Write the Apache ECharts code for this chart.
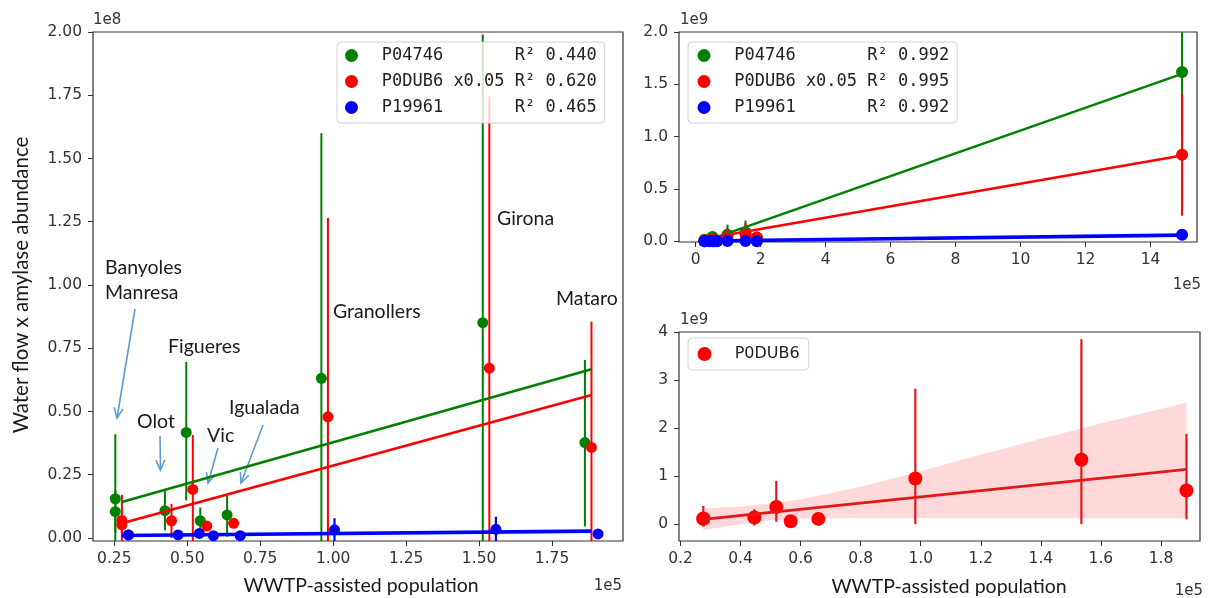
<!DOCTYPE html>
<html>
<head>
<meta charset="utf-8">
<script src="https://cdn.jsdelivr.net/npm/echarts@6/dist/echarts.min.js"></script>
<style>
  html, body { margin: 0; padding: 0; background: #fff; }
  #chart { width: 1211px; height: 598px; }
</style>
</head>
<body>
<div id="chart"></div>
<script>
// ---- Data -------------------------------------------------------------
// WWTP sites (population in units of 1e5 inhabitants)
const sites = ['Banyoles', 'Manresa', 'Olot', 'Figueres', 'Vic', 'Igualada', 'Granollers', 'Girona', 'Mataro'];
const populationE5 = [0.276, 0.276, 0.446, 0.519, 0.567, 0.659, 0.982, 1.535, 1.885];

// Water flow x amylase abundance, units of 1e8 (P0DUB6 scaled by 0.05)
const p04746 = [0.155, 0.104, 0.108, 0.417, 0.068, 0.091, 0.631, 0.851, 0.377];
const p04746Low = [-0.10, 0.02, 0.03, 0.148, 0.01, 0.005, -0.35, -0.29, 0.046];
const p04746High = [0.41, 0.19, 0.188, 0.696, 0.12, 0.168, 1.60, 1.99, 0.704];

const p0dub6x005 = [0.069, 0.052, 0.068, 0.192, 0.047, 0.058, 0.479, 0.671, 0.358];
const p0dub6x005Low = [-0.03, 0.02, 0.0, -0.02, 0.03, 0.04, -0.30, -0.40, -0.14];
const p0dub6x005High = [0.17, 0.09, 0.135, 0.407, 0.065, 0.075, 1.265, 1.745, 0.855];

const p19961 = [0.012, 0.012, 0.012, 0.018, 0.009, 0.009, 0.032, 0.034, 0.016];
const p19961Low = [0.004, 0.004, 0.004, 0.008, 0.003, 0.003, -0.014, -0.016, 0.008];
const p19961High = [0.020, 0.020, 0.020, 0.028, 0.015, 0.015, 0.078, 0.084, 0.024];

// Linear fits over the nine sites (1e8)
const fitXE5 = [0.276, 1.885];
const fitP04746 = [0.142, 0.667];
const fitP0DUB6 = [0.058, 0.565];
const fitP19961 = [0.010, 0.027];
const r2Sites = { P04746: '0.440', P0DUB6: '0.620', P19961: '0.465' };

// Barcelona added (units 1e9 on y)
const bcnPopulationE5 = 14.97;
const bcnP04746 = [1.618, 1.00, 2.24];   // value, low, high
const bcnP0DUB6 = [0.828, 0.245, 1.41];
const bcnP19961 = [0.064, 0.040, 0.090];
const fitAllXE5 = [0.276, 14.97];
const fitAllP04746 = [0.000, 1.600];
const fitAllP0DUB6 = [0.025, 0.820];
const fitAllP19961 = [0.003, 0.060];
const r2All = { P04746: '0.992', P0DUB6: '0.995', P19961: '0.992' };

// P0DUB6 unscaled (units 1e9)
const p0dub6 = [0.12, 0.11, 0.14, 0.36, 0.06, 0.11, 0.95, 1.34, 0.70];
const p0dub6Low = [-0.05, 0.02, -0.03, 0.05, 0.02, 0.05, 0.00, 0.00, 0.10];
const p0dub6High = [0.38, 0.20, 0.31, 0.90, 0.10, 0.17, 2.82, 3.85, 1.88];
const fitP0DUB6Raw = [0.10, 1.14];
const bandXE5 = [0.276, 0.40, 0.50, 0.60, 0.80, 1.00, 1.20, 1.40, 1.60, 1.885];
const bandLow = [-0.12, 0.00, 0.08, 0.12, 0.13, 0.13, 0.13, 0.13, 0.13, 0.13];
const bandHigh = [0.33, 0.37, 0.43, 0.52, 0.78, 1.10, 1.45, 1.78, 2.10, 2.53];

// Tick labels
const ticksXLeft = [0.25, 0.50, 0.75, 1.00, 1.25, 1.50, 1.75];
const ticksYLeft = [0.00, 0.25, 0.50, 0.75, 1.00, 1.25, 1.50, 1.75, 2.00];
const ticksXTop = [0, 2, 4, 6, 8, 10, 12, 14];
const ticksYTop = [0.0, 0.5, 1.0, 1.5, 2.0];
const ticksXBottom = [0.2, 0.4, 0.6, 0.8, 1.0, 1.2, 1.4, 1.6, 1.8];
const ticksYBottom = [0, 1, 2, 3, 4];

// ---- Styling ----------------------------------------------------------
const GREEN = '#008000', RED = '#ff0000', BLUE = '#0000ff', DARKRED = '#e01818';
const ANNOT = '#5b9bd5';
const TICK_FONT = 'DejaVu Sans';
const MONO = 'DejaVu Sans Mono';
const LABEL_FONT = 'Lato';
const NBSP = '\u00a0';
const DODGE = 0.0225; // horizontal offset between the three proteins in the left panel

function valueAxis(grid, min, max, ticks, digits, margin) {
  return {
    type: 'value', gridIndex: grid, min: min, max: max,
    splitLine: { show: false },
    axisLine: { show: false, onZero: false },
    axisTick: { show: true, length: 5, customValues: ticks, lineStyle: { color: '#333', width: 1 } },
    axisLabel: {
      customValues: ticks, margin: margin, color: '#333',
      fontFamily: TICK_FONT, fontSize: 15.5,
      formatter: v => Number(v).toFixed(digits)
    }
  };
}

function errorBars(name, xi, xs, lows, highs, color, width, z) {
  return {
    type: 'custom', name: name, xAxisIndex: xi, yAxisIndex: xi, z: z, clip: true,
    data: xs.map((x, i) => [x, lows[i], highs[i]]),
    encode: { x: 0, y: [1, 2] },
    renderItem: function (params, api) {
      const a = api.coord([api.value(0), api.value(1)]);
      const b = api.coord([api.value(0), api.value(2)]);
      const cs = params.coordSys;
      const clamp = y => Math.min(Math.max(y, cs.y), cs.y + cs.height);
      return {
        type: 'line',
        shape: { x1: a[0], y1: clamp(a[1]), x2: b[0], y2: clamp(b[1]) },
        style: { stroke: color, lineWidth: width }
      };
    }
  };
}

function points(name, xi, xs, ys, color, size, z) {
  return {
    type: 'scatter', name: name, xAxisIndex: xi, yAxisIndex: xi, z: z,
    symbol: 'circle', symbolSize: size,
    itemStyle: { color: color, opacity: 1 },
    data: xs.map((x, i) => [x, ys[i]])
  };
}

function fitLine(name, xi, xs, ys, color, width, z) {
  return {
    type: 'line', name: name, xAxisIndex: xi, yAxisIndex: xi, z: z,
    showSymbol: false, symbol: 'none',
    lineStyle: { color: color, width: width },
    itemStyle: { color: color },
    data: xs.map((x, i) => [x, ys[i]])
  };
}

const shifted = (arr, d) => arr.map(v => +(v + d).toFixed(4));
const scaled = (arr, k) => arr.map(v => v * k);

// Panel 2 uses the same nine sites (1e8 -> 1e9) plus Barcelona
const allPop = populationE5.concat([bcnPopulationE5]);
const allG = scaled(p04746, 0.1).concat([bcnP04746[0]]);
const allGL = scaled(p04746Low, 0.1).concat([bcnP04746[1]]);
const allGH = scaled(p04746High, 0.1).concat([bcnP04746[2]]);
const allR = scaled(p0dub6x005, 0.1).concat([bcnP0DUB6[0]]);
const allRL = scaled(p0dub6x005Low, 0.1).concat([bcnP0DUB6[1]]);
const allRH = scaled(p0dub6x005High, 0.1).concat([bcnP0DUB6[2]]);
const allB = scaled(p19961, 0.1).concat([bcnP19961[0]]);
const allBL = scaled(p19961Low, 0.1).concat([bcnP19961[1]]);
const allBH = scaled(p19961High, 0.1).concat([bcnP19961[2]]);

function legendLabel(r2) {
  return function (name) {
    const tag = name === 'P0DUB6' ? 'P0DUB6 x0.05' : name;
    return (NBSP + tag.padEnd(13, ' ') + 'R\u00b2 ' + r2[name]).replace(/ /g, NBSP);
  };
}

function legendBox(left, top, pad, formatter, data, font, fontSize, iconH) {
  return {
    left: left, top: top, orient: 'vertical', padding: pad,
    data: data, icon: 'circle', itemWidth: 30, itemHeight: iconH, itemGap: 9,
    selectedMode: false,
    backgroundColor: 'rgba(255,255,255,0.8)', borderColor: '#d2d2d2', borderWidth: 1, borderRadius: 4,
    textStyle: { fontFamily: font, fontSize: fontSize, lineHeight: 17, color: '#222' },
    formatter: formatter
  };
}

// ---- Annotations (site names and arrows) ------------------------------
function text(x, y, str, opts) {
  return {
    type: 'text', x: x, y: y, silent: true,
    style: Object.assign({ text: str, fontFamily: LABEL_FONT, fontSize: 19.5, fill: '#1a1a1a', align: 'left', verticalAlign: 'middle' }, opts || {})
  };
}
function arrow(x1, y1, x2, y2) {
  const ang = Math.atan2(y2 - y1, x2 - x1), L = 11, s = 0.42;
  return {
    type: 'group', silent: true, children: [
      { type: 'line', shape: { x1, y1, x2, y2 }, style: { stroke: ANNOT, lineWidth: 1.6 } },
      { type: 'polyline', shape: { points: [
        [x2 - L * Math.cos(ang - s), y2 - L * Math.sin(ang - s)], [x2, y2],
        [x2 - L * Math.cos(ang + s), y2 - L * Math.sin(ang + s)]] },
        style: { stroke: ANNOT, lineWidth: 1.6, fill: null } }
    ]
  };
}

const SCALE_STYLE = { fontFamily: TICK_FONT, fontSize: 15, fill: '#333' };
const graphics = [
  text(105, 268, 'Banyoles'), text(105, 293, 'Manresa'),
  text(168, 347, 'Figueres'), text(137, 422, 'Olot'), text(207, 436, 'Vic'),
  text(229, 408, 'Igualada'), text(333, 312, 'Granollers'), text(497, 219, 'Girona'),
  text(556, 299, 'Mataro'),
  arrow(135, 309, 117, 418), arrow(160, 436, 160.5, 470), arrow(218, 448, 208, 483), arrow(263, 425, 241, 483),
  // axis titles
  text(361, 586, 'WWTP-assisted population', { align: 'center' }),
  text(949, 587, 'WWTP-assisted population', { align: 'center' }),
  Object.assign(text(21, 285, 'Water flow x amylase abundance', { align: 'center', fontSize: 20.5 }), { rotation: Math.PI / 2 }),
  // offset (scale) labels
  text(93, 20, '1e8', SCALE_STYLE),
  text(622, 586, '1e5', Object.assign({ align: 'right' }, SCALE_STYLE)),
  text(680, 20, '1e9', SCALE_STYLE),
  text(1201, 285, '1e5', Object.assign({ align: 'right' }, SCALE_STYLE)),
  text(680, 320, '1e9', SCALE_STYLE),
  text(1203, 591, '1e5', Object.assign({ align: 'right' }, SCALE_STYLE))
];

// ---- Chart ------------------------------------------------------------
const gridStyle = { show: true, borderColor: '#333', borderWidth: 1.2, backgroundColor: 'transparent' };

const option = {
  animation: false,
  backgroundColor: '#fff',
  grid: [
    Object.assign({ left: 93, top: 32, width: 530, height: 509 }, gridStyle),
    Object.assign({ left: 679, top: 32, width: 518, height: 210 }, gridStyle),
    Object.assign({ left: 679, top: 332, width: 521, height: 209 }, gridStyle)
  ],
  xAxis: [
    valueAxis(0, 0.177, 1.993, ticksXLeft, 2, 10),
    valueAxis(1, -0.51, 15.43, ticksXTop, 0, 10),
    valueAxis(2, 0.195, 1.93, ticksXBottom, 1, 10)
  ],
  yAxis: [
    valueAxis(0, -0.012, 2.0, ticksYLeft, 2, 11),
    valueAxis(1, -0.006, 2.0, ticksYTop, 1, 11),
    valueAxis(2, -0.35, 4.0, ticksYBottom, 0, 11)
  ],
  legend: [
    legendBox(337, 42, [5, 8, 7, 8], legendLabel(r2Sites), ['P04746', 'P0DUB6', 'P19961'], MONO, 17, 13),
    legendBox(688, 42, [5, 8, 7, 9.5], legendLabel(r2All), ['P04746', 'P0DUB6', 'P19961'], MONO, 17, 13),
    legendBox(688, 338, [7.5, 9, 7.5, 9.5], name => NBSP + NBSP + name, ['P0DUB6'], TICK_FONT, 16, 14)
  ],
  graphic: graphics,
  series: [
    // Left panel
    points('P04746', 0, shifted(populationE5, -DODGE), p04746, GREEN, 11, 3),
    points('P0DUB6', 0, populationE5, p0dub6x005, RED, 11, 3),
    points('P19961', 0, shifted(populationE5, DODGE), p19961, BLUE, 11, 6),
    errorBars('P04746 sd', 0, shifted(populationE5, -DODGE), p04746Low, p04746High, GREEN, 2, 2),
    errorBars('P0DUB6 sd', 0, populationE5, p0dub6x005Low, p0dub6x005High, RED, 2, 2),
    errorBars('P19961 sd', 0, shifted(populationE5, DODGE), p19961Low, p19961High, BLUE, 2.2, 5),
    fitLine('P04746 fit', 0, fitXE5, fitP04746, GREEN, 2.6, 4),
    fitLine('P0DUB6 fit', 0, fitXE5, fitP0DUB6, RED, 2.6, 4),
    fitLine('P19961 fit', 0, fitXE5, fitP19961, BLUE, 3.6, 5),

    // Top-right panel (with Barcelona)
    points('P04746', 1, allPop, allG, GREEN, 12, 3),
    points('P0DUB6', 1, allPop, allR, RED, 12, 3),
    points('P19961', 1, allPop, allB, BLUE, 12, 6),
    errorBars('P04746 sd', 1, allPop, allGL, allGH, GREEN, 2, 2),
    errorBars('P0DUB6 sd', 1, allPop, allRL, allRH, RED, 2, 2),
    errorBars('P19961 sd', 1, allPop, allBL, allBH, BLUE, 2, 5),
    fitLine('P04746 fit', 1, fitAllXE5, fitAllP04746, GREEN, 2.6, 4),
    fitLine('P0DUB6 fit', 1, fitAllXE5, fitAllP0DUB6, RED, 2.6, 4),
    fitLine('P19961 fit', 1, fitAllXE5, fitAllP19961, BLUE, 3.6, 5),

    // Bottom-right panel: P0DUB6 with confidence band
    {
      type: 'custom', name: 'P0DUB6 ci', xAxisIndex: 2, yAxisIndex: 2, z: 1, clip: true,
      data: [0],
      renderItem: function (params, api) {
        const upper = bandXE5.map((x, i) => api.coord([x, bandHigh[i]]));
        const lower = bandXE5.map((x, i) => api.coord([x, bandLow[i]])).reverse();
        return { type: 'polygon', shape: { points: upper.concat(lower) }, style: { fill: 'rgba(255,0,0,0.15)' } };
      }
    },
    errorBars('P0DUB6 raw sd', 2, populationE5, p0dub6Low, p0dub6High, DARKRED, 2.2, 2),
    fitLine('P0DUB6 raw fit', 2, fitXE5, fitP0DUB6Raw, DARKRED, 2.6, 4),
    points('P0DUB6', 2, populationE5, p0dub6, RED, 14, 3)
  ]
};

const chart = echarts.init(document.getElementById('chart'), null, { renderer: 'canvas' });
chart.setOption(option);
</script>
</body>
</html>
